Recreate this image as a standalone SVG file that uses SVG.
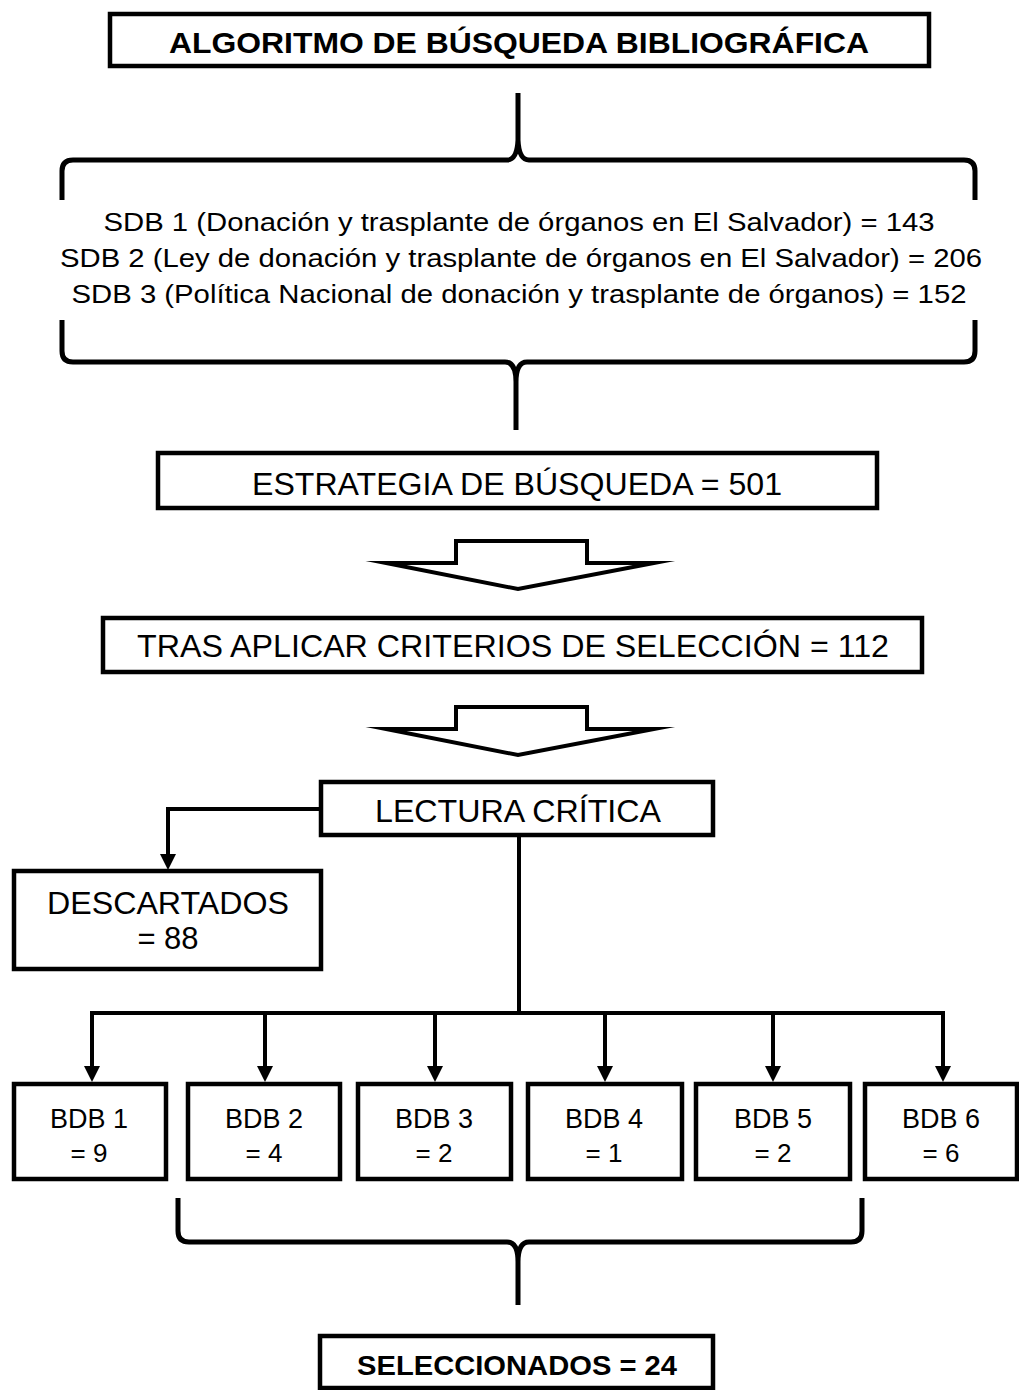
<svg xmlns="http://www.w3.org/2000/svg" width="1019" height="1390" viewBox="0 0 1019 1390">
<style>
.box{fill:#fff;stroke:#000;stroke-width:4.5}
.t{font-family:"Liberation Sans",Arial,sans-serif;fill:#000;text-anchor:middle}
.b{font-weight:bold}
.ln{fill:none;stroke:#000;stroke-width:4}
.br{fill:none;stroke:#000;stroke-width:5;stroke-linejoin:round}
.hol{fill:#fff;stroke:#000;stroke-width:4;stroke-linejoin:miter;stroke-miterlimit:20}
</style>
<rect width="1019" height="1390" fill="#fff"/>

<g id="title">
<rect class="box" x="110" y="14" width="819" height="52"/>
<text class="t b" x="519" y="53" font-size="30" textLength="700" lengthAdjust="spacingAndGlyphs">ALGORITMO DE BÚSQUEDA BIBLIOGRÁFICA</text>
</g>

<g id="sdb">
<text class="t" x="519" y="231" font-size="25" textLength="831" lengthAdjust="spacingAndGlyphs">SDB 1 (Donación y trasplante de órganos en El Salvador) = 143</text>
<text class="t" x="521" y="267" font-size="25" textLength="922" lengthAdjust="spacingAndGlyphs">SDB 2 (Ley de donación y trasplante de órganos en El Salvador) = 206</text>
<text class="t" x="519" y="303" font-size="25" textLength="895" lengthAdjust="spacingAndGlyphs">SDB 3 (Política Nacional de donación y trasplante de órganos) = 152</text>
</g>

<g id="estrategia">
<rect class="box" x="158" y="453" width="719" height="55"/>
<text class="t" x="517" y="495" font-size="31" textLength="530" lengthAdjust="spacingAndGlyphs">ESTRATEGIA DE BÚSQUEDA = 501</text>
</g>

<g id="tras">
<rect class="box" x="103" y="618" width="819" height="54"/>
<text class="t" x="513" y="657" font-size="31" textLength="752" lengthAdjust="spacingAndGlyphs">TRAS APLICAR CRITERIOS DE SELECCIÓN = 112</text>
</g>

<g id="lectura">
<rect class="box" x="321" y="782" width="392" height="53"/>
<text class="t" x="518" y="822" font-size="31" textLength="286" lengthAdjust="spacingAndGlyphs">LECTURA CRÍTICA</text>
</g>

<g id="descartados">
<rect class="box" x="14" y="871" width="307" height="98"/>
<text class="t" x="168" y="914" font-size="31" textLength="242" lengthAdjust="spacingAndGlyphs">DESCARTADOS</text>
<text class="t" x="168" y="949" font-size="31">= 88</text>
</g>

<g id="bdb1">
<rect class="box" x="14" y="1084" width="152" height="95"/>
<text class="t" x="89" y="1128" font-size="27">BDB 1</text>
<text class="t" x="89" y="1162" font-size="26">= 9</text>
</g>
<g id="bdb2">
<rect class="box" x="188" y="1084" width="152" height="95"/>
<text class="t" x="264" y="1128" font-size="27">BDB 2</text>
<text class="t" x="264" y="1162" font-size="26">= 4</text>
</g>
<g id="bdb3">
<rect class="box" x="358" y="1084" width="153" height="95"/>
<text class="t" x="434" y="1128" font-size="27">BDB 3</text>
<text class="t" x="434" y="1162" font-size="26">= 2</text>
</g>
<g id="bdb4">
<rect class="box" x="528" y="1084" width="154" height="95"/>
<text class="t" x="604" y="1128" font-size="27">BDB 4</text>
<text class="t" x="604" y="1162" font-size="26">= 1</text>
</g>
<g id="bdb5">
<rect class="box" x="696" y="1084" width="154" height="95"/>
<text class="t" x="773" y="1128" font-size="27">BDB 5</text>
<text class="t" x="773" y="1162" font-size="26">= 2</text>
</g>
<g id="bdb6">
<rect class="box" x="865" y="1084" width="152" height="95"/>
<text class="t" x="941" y="1128" font-size="27">BDB 6</text>
<text class="t" x="941" y="1162" font-size="26">= 6</text>
</g>

<g id="seleccionados">
<rect class="box" x="320" y="1336" width="393" height="52"/>
<text class="t b" x="517" y="1375" font-size="28" textLength="320" lengthAdjust="spacingAndGlyphs">SELECCIONADOS = 24</text>
</g>

<g id="connectors">
<path class="br" d="M62 200 L62 171 Q62 160 73 160 L507 160 Q517 160 518 140 L518 93 M518 140 Q519 160 529 160 L964 160 Q975 160 975 171 L975 200"/>
<path class="br" d="M62 320 L62 351 Q62 362 73 362 L505 362 Q516 362 516 382 L516 430 M516 382 Q516 362 527 362 L964 362 Q975 362 975 351 L975 320"/>
<polygon class="hol" points="456,541 587,541 587,563 654,563 518,589 386,563 456,563"/>
<polygon class="hol" points="456,707 587,707 587,729 654,729 518,755 386,729 456,729"/>
<path class="ln" d="M321 809 L168 809 L168 857"/>
<path d="M160 854 L176 854 L168 870 Z"/>
<path class="ln" d="M519 835 L519 1013"/>
<path class="ln" d="M90 1013 L943 1013"/>
<path class="ln" d="M92 1011 L92 1068 M265 1013 L265 1068 M435 1013 L435 1068 M605 1013 L605 1068 M773 1013 L773 1068 M943 1011 L943 1068"/>
<path d="M84 1066 L100 1066 L92 1082 Z M257 1066 L273 1066 L265 1082 Z M427 1066 L443 1066 L435 1082 Z M597 1066 L613 1066 L605 1082 Z M765 1066 L781 1066 L773 1082 Z M935 1066 L951 1066 L943 1082 Z"/>
<path class="br" d="M178 1198 L178 1231 Q178 1242 189 1242 L507 1242 Q518 1242 518 1262 L518 1305 M518 1262 Q518 1242 529 1242 L851 1242 Q862 1242 862 1231 L862 1198"/>
</g>
</svg>
